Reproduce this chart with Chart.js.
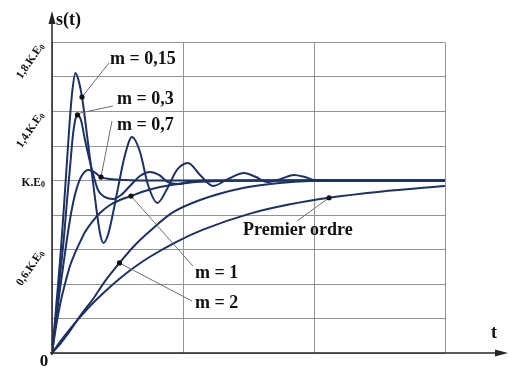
<!DOCTYPE html>
<html>
<head>
<meta charset="utf-8">
<script src="https://cdn.jsdelivr.net/npm/chart.js@4.4.1/dist/chart.umd.min.js"></script>
<style>
  html, body { margin: 0; padding: 0; background: #fff; }
  #wrap { width: 509px; height: 370px; }
</style>
</head>
<body>
<div id="wrap"><canvas id="chart" width="509" height="370"></canvas></div>
<script>
'use strict';

// Réponses indicielles (t en carreaux, s en K.E0)
var t015 = [0, 0.023, 0.046, 0.069, 0.092, 0.115, 0.137, 0.156, 0.179, 0.202, 0.229, 0.275, 0.328, 0.366, 0.393, 0.427, 0.466, 0.504, 0.557, 0.611, 0.672, 0.733, 0.805, 0.878, 0.954, 1.038, 1.130, 1.229, 1.344, 1.466, 1.557, 1.641, 1.748, 1.847, 1.931, 2.008, 2.4, 3.0];
var s015 = [0, 0.191, 0.394, 0.609, 0.858, 1.119, 1.362, 1.525, 1.623, 1.583, 1.484, 1.217, 0.899, 0.696, 0.638, 0.684, 0.812, 0.957, 1.148, 1.252, 1.165, 0.974, 0.870, 0.951, 1.061, 1.101, 1.032, 0.968, 1.009, 1.043, 1.020, 0.991, 1.009, 1.032, 1.020, 1.003, 1.0, 1.0];

var t03 = [0, 0.031, 0.061, 0.092, 0.115, 0.137, 0.160, 0.179, 0.195, 0.221, 0.252, 0.302, 0.351, 0.405, 0.466, 0.527, 0.595, 0.672, 0.748, 0.817, 0.885, 0.962, 1.069, 1.206, 3.0];
var s03 = [0, 0.220, 0.446, 0.678, 0.887, 1.072, 1.264, 1.357, 1.380, 1.351, 1.235, 1.072, 0.945, 0.904, 0.893, 0.916, 0.968, 1.026, 1.049, 1.032, 0.991, 0.980, 0.997, 1.0, 1.0];

var t07 = [0, 0.031, 0.061, 0.092, 0.122, 0.153, 0.187, 0.229, 0.279, 0.328, 0.374, 0.443, 0.557, 0.748, 3.0];
var s07 = [0, 0.19, 0.37, 0.54, 0.70, 0.84, 0.95, 1.03, 1.061, 1.046, 1.020, 1.009, 1.003, 1.0, 1.0];

var t1 = [0, 0.023, 0.046, 0.076, 0.107, 0.137, 0.176, 0.214, 0.252, 0.305, 0.366, 0.443, 0.519, 0.603, 0.710, 0.824, 1.031, 1.282, 1.588, 3.0];
var s1 = [0, 0.116, 0.220, 0.330, 0.423, 0.504, 0.580, 0.643, 0.701, 0.759, 0.812, 0.858, 0.887, 0.910, 0.939, 0.962, 0.986, 0.997, 1.0, 1.0];

var t2 = [0, 0.061, 0.137, 0.214, 0.313, 0.405, 0.515, 0.634, 0.748, 0.916, 1.130, 1.458, 1.740, 1.969, 2.351, 3.0];
var s2 = [0, 0.052, 0.128, 0.214, 0.313, 0.417, 0.522, 0.626, 0.707, 0.812, 0.887, 0.957, 0.986, 0.997, 1.0, 1.0];

var tOrdre1 = [0, 0.061, 0.137, 0.214, 0.313, 0.405, 0.511, 0.634, 0.748, 0.954, 1.153, 1.511, 1.817, 2.115, 2.504, 3.0];
var sOrdre1 = [0, 0.065, 0.139, 0.208, 0.290, 0.357, 0.428, 0.500, 0.558, 0.646, 0.715, 0.808, 0.862, 0.900, 0.935, 0.968];

// Étiquettes des courbes et points repérés sur chaque courbe
var curveNames = ['m = 0,15', 'm = 0,3', 'm = 0,7', 'm = 1', 'm = 2', 'Premier ordre'];
var markT = [0.229, 0.195, 0.374, 0.603, 0.515, 2.115];
var markS = [1.484, 1.380, 1.020, 0.910, 0.522, 0.900];

// Graduations de l'axe s(t)
var yTickValues = [1.8, 1.4, 1.0, 0.6];
var yTickTexts = ['1,8.K.E', '1,4.K.E', 'K.E', '0,6.K.E'];

function toPoints(ts, ss) {
    return ts.map(function(t, i) { return { x: t, y: ss[i] }; });
}

var curveColor = '#1d3163';
var serif = '"Liberation Serif", "Times New Roman", serif';

// Placement des textes (en unités des axes) : position du texte, départ du trait de rappel
var labelLayout = [
    { tx: 0.443, ty: 1.705, lx: 0.435, ly: 1.681, ex: 0.229, ey: 1.484 },
    { tx: 0.496, ty: 1.472, lx: 0.466, ly: 1.432, ex: 0.214, ey: 1.391 },
    { tx: 0.496, ty: 1.319, lx: 0.458, ly: 1.345, ex: 0.374, ey: 1.020 },
    { tx: 1.092, ty: 0.464, lx: 1.076, ly: 0.504, ex: 0.603, ey: 0.910 },
    { tx: 1.092, ty: 0.290, lx: 1.069, ly: 0.301, ex: 0.515, ey: 0.522 },
    { tx: 1.458, ty: 0.713, lx: 1.870, ly: 0.765, ex: 2.115, ey: 0.900 }
];

var figurePlugin = {
    id: 'figure',
    afterDatasetsDraw: function(chart) {
        var ctx = chart.ctx;
        var xs = chart.scales.x, ys = chart.scales.y;
        var x0 = xs.getPixelForValue(0), y0 = ys.getPixelForValue(0);
        ctx.save();

        // Axes avec flèches
        ctx.strokeStyle = '#262626';
        ctx.fillStyle = '#262626';
        ctx.lineWidth = 1.5;
        ctx.beginPath();
        ctx.moveTo(x0, y0 + 2);
        ctx.lineTo(x0, 22);
        ctx.moveTo(x0 - 2, y0);
        ctx.lineTo(497, y0);
        ctx.stroke();
        ctx.beginPath();
        ctx.moveTo(x0, 11);
        ctx.lineTo(x0 - 3.5, 24);
        ctx.lineTo(x0 + 3.5, 24);
        ctx.closePath();
        ctx.fill();
        ctx.beginPath();
        ctx.moveTo(508, y0);
        ctx.lineTo(495, y0 - 3.5);
        ctx.lineTo(495, y0 + 3.5);
        ctx.closePath();
        ctx.fill();

        // Traits de rappel
        ctx.strokeStyle = '#6e6e6e';
        ctx.lineWidth = 1;
        labelLayout.forEach(function(l) {
            ctx.beginPath();
            ctx.moveTo(xs.getPixelForValue(l.lx), ys.getPixelForValue(l.ly));
            ctx.lineTo(xs.getPixelForValue(l.ex), ys.getPixelForValue(l.ey));
            ctx.stroke();
        });

        // Points repérés
        ctx.fillStyle = '#111';
        markT.forEach(function(t, i) {
            ctx.beginPath();
            ctx.arc(xs.getPixelForValue(t), ys.getPixelForValue(markS[i]), 2.6, 0, Math.PI * 2);
            ctx.fill();
        });

        // Noms des courbes
        ctx.fillStyle = '#111';
        ctx.font = 'bold 18px ' + serif;
        ctx.textBaseline = 'middle';
        ctx.textAlign = 'left';
        curveNames.forEach(function(name, i) {
            var l = labelLayout[i];
            ctx.fillText(name, xs.getPixelForValue(l.tx), ys.getPixelForValue(l.ty));
        });

        // Titres des axes
        ctx.font = 'bold 18px ' + serif;
        ctx.fillText('s(t)', x0 + 4, 20);
        ctx.fillText('t', 491, 333);
        ctx.font = 'bold 17px ' + serif;
        ctx.textAlign = 'center';
        ctx.fillText('0', x0 - 8, y0 + 9);

        // Graduations en K.E0
        yTickValues.forEach(function(v, i) {
            var py = ys.getPixelForValue(v);
            var main = yTickTexts[i];
            ctx.save();
            if (v === 1.0) {
                ctx.translate(x0 - 7, py + 1);
            } else {
                ctx.translate(x0 - 11, py + 1);
                ctx.rotate(-56 * Math.PI / 180);
            }
            ctx.font = 'bold 11.5px ' + serif;
            var wMain = ctx.measureText(main).width;
            ctx.font = 'bold 8px ' + serif;
            var wSub = ctx.measureText('0').width;
            ctx.textAlign = 'left';
            ctx.textBaseline = 'alphabetic';
            ctx.font = 'bold 11.5px ' + serif;
            ctx.fillText(main, -(wMain + wSub), 4);
            ctx.font = 'bold 8px ' + serif;
            ctx.fillText('0', -wSub, 5.5);
            ctx.restore();
        });

        ctx.restore();
    }
};

function curve(ts, ss) {
    return {
        data: toPoints(ts, ss),
        borderColor: curveColor,
        borderWidth: 2,
        pointRadius: 0,
        fill: false,
        cubicInterpolationMode: 'monotone'
    };
}

new Chart(document.getElementById('chart').getContext('2d'), {
    type: 'line',
    data: {
        datasets: [
            curve(tOrdre1, sOrdre1),
            curve(t2, s2),
            curve(t1, s1),
            curve(t07, s07),
            curve(t03, s03),
            curve(t015, s015)
        ]
    },
    options: {
        responsive: false,
        animation: false,
        devicePixelRatio: 1,
        layout: { padding: { left: 52, right: 64, top: 42.5, bottom: 17 } },
        plugins: {
            legend: { display: false },
            tooltip: { enabled: false }
        },
        scales: {
            x: {
                type: 'linear',
                min: 0,
                max: 3,
                ticks: { display: false, stepSize: 1 },
                grid: { color: '#939393', lineWidth: 1, drawTicks: false },
                border: { display: false }
            },
            y: {
                type: 'linear',
                min: 0,
                max: 1.8,
                ticks: { display: false, stepSize: 0.2 },
                grid: { color: '#939393', lineWidth: 1, drawTicks: false },
                border: { display: false }
            }
        }
    },
    plugins: [figurePlugin]
});
</script>
</body>
</html>
